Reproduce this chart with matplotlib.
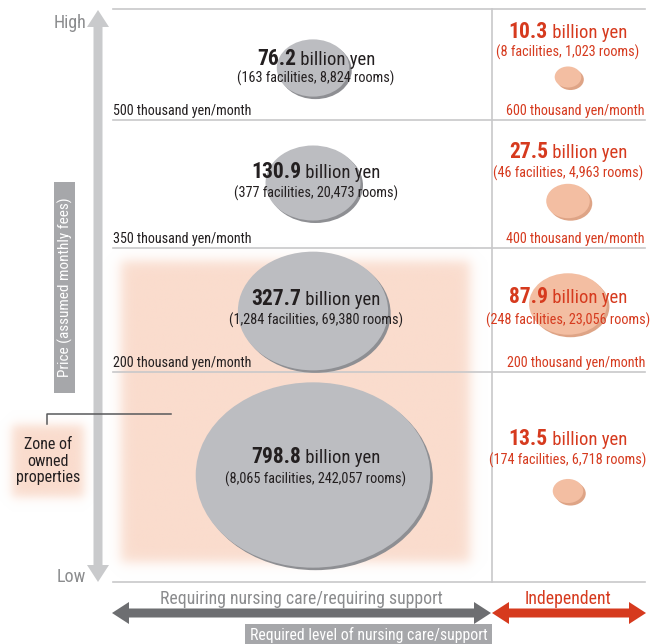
import numpy as np
import matplotlib.pyplot as plt
from matplotlib.patches import Ellipse, Polygon, Rectangle

# market size by price band (billion yen), facilities and rooms
care_value = [76.2, 130.9, 327.7, 798.8]
care_facilities = [163, 377, 1284, 8065]
care_rooms = [8824, 20473, 69380, 242057]

indep_value = [10.3, 27.5, 87.9, 13.5]
indep_facilities = [8, 46, 248, 174]
indep_rooms = [1023, 4963, 23056, 6718]

care_bands = ["500 thousand yen/month", "350 thousand yen/month", "200 thousand yen/month"]
indep_bands = ["600 thousand yen/month", "400 thousand yen/month", "200 thousand yen/month"]

FONT = ["Roboto Condensed", "Archivo Narrow", "PT Sans Narrow", "Fira Sans Condensed",
        "Barlow Condensed", "Liberation Sans Narrow", "DejaVu Sans"]
plt.rcParams["font.family"] = FONT

DARK = "#231f20"
RED = "#d63a1e"
GRID = "#c8c8ca"
GREY_TXT = "#8b8c8e"
SALMON = (250 / 255, 220 / 255, 205 / 255)

W, H = 658, 644
fig = plt.figure(figsize=(W / 100, H / 100), dpi=100)
ax = fig.add_axes([0, 0, 1, 1])
ax.set_xlim(0, W)
ax.set_ylim(H, 0)
ax.axis("off")

# layout (pixel units)
row_lines = [9, 120, 248, 372, 582]
grid_left, grid_mid, grid_right = 113, 492, 645
care_x, indep_x = 313, 568
care_bubble_y = [68, 183, 311, 475]
indep_bubble_y = [77, 201, 304, 491]
care_main_y = [65, 178, 305, 463]
care_sub_y = [83, 198, 325, 484]
indep_main_y = [38, 158, 303, 445]
indep_sub_y = [57, 178, 325, 465]
BUBBLE_K = 8.3     # width in px per sqrt(billion yen)
BUBBLE_ASPECT = 0.79


def soft_box(x0, x1, y0, y1, color, blur=3.0, z=0):
    pad = blur * 5
    xs = np.linspace(x0 - pad, x1 + pad, 300)
    ys = np.linspace(y0 - pad, y1 + pad, 300)
    X, Y = np.meshgrid(xs, ys)
    sig = lambda v: 1 / (1 + np.exp(-v / blur))
    a = sig(X - x0) * sig(x1 - X) * sig(Y - y0) * sig(y1 - Y)
    rgba = np.zeros(a.shape + (4,))
    rgba[..., :3] = color
    rgba[..., 3] = a
    ax.imshow(rgba, extent=(xs[0], xs[-1], ys[-1], ys[0]), origin="lower",
              aspect="auto", zorder=z, interpolation="bilinear")


def double_arrow(x0, x1, y, color, shaft=9, head_w=22, head_l=17, vertical=False):
    s, h = shaft / 2, head_w / 2
    pts = [(x0, 0), (x0 + head_l, -h), (x0 + head_l, -s), (x1 - head_l, -s),
           (x1 - head_l, -h), (x1, 0), (x1 - head_l, h), (x1 - head_l, s),
           (x0 + head_l, s), (x0 + head_l, h)]
    if vertical:
        pts = [(y + q, p) for p, q in pts]
    else:
        pts = [(p, y + q) for p, q in pts]
    ax.add_patch(Polygon(pts, closed=True, facecolor=color, edgecolor="none", zorder=3))


def bubble(x, y, value, fill, shade):
    w = BUBBLE_K * np.sqrt(value)
    h = w * BUBBLE_ASPECT
    ax.add_patch(Ellipse((x + 2.5, y + 2.5), w, h, facecolor=shade, edgecolor="none", zorder=3))
    ax.add_patch(Ellipse((x, y), w, h, facecolor=fill, edgecolor="none", zorder=3.1))


def amount_label(x, y_main, y_sub, value, fac, rooms, color):
    t1 = ax.text(0, y_main, f"{value}", fontsize=15.5, fontweight="bold",
                 color=color, ha="left", va="baseline", zorder=5)
    t2 = ax.text(0, y_main, " billion yen", fontsize=13.5, color=color,
                 ha="left", va="baseline", zorder=5)
    r = fig.canvas.get_renderer()
    w1 = t1.get_window_extent(r).width
    w2 = t2.get_window_extent(r).width
    left = x - (w1 + w2) / 2
    t1.set_x(left)
    t2.set_x(left + w1)
    ax.text(x, y_sub, f"({fac:,} facilities, {rooms:,} rooms)", fontsize=10.3,
            color=color, ha="center", va="baseline", zorder=5)


# zone of owned properties
soft_box(120, 470, 261, 563, SALMON, blur=3.5, z=0)
soft_box(12, 84, 425, 497, SALMON, blur=3, z=0)
ax.set_xlim(0, W)
ax.set_ylim(H, 0)

# grid
for y in row_lines:
    ax.plot([grid_left, grid_right], [y, y], color=GRID, lw=1.2, zorder=2)
ax.plot([grid_mid, grid_mid], [row_lines[0], row_lines[-1]], color=GRID, lw=1.2, zorder=2)

for i, lab in enumerate(care_bands):
    ax.text(grid_left, row_lines[i + 1] - 5, lab, fontsize=10.2, color=DARK,
            ha="left", va="baseline", zorder=5)
for i, lab in enumerate(indep_bands):
    ax.text(grid_right, row_lines[i + 1] - 5, lab, fontsize=10.2, color=RED,
            ha="right", va="baseline", zorder=5)

# bubbles
for i in range(4):
    bubble(care_x, care_bubble_y[i], care_value[i], "#bcbdc1", "#8e8f93")
    amount_label(care_x + 3, care_main_y[i], care_sub_y[i], care_value[i],
                 care_facilities[i], care_rooms[i], DARK)
    bubble(indep_x, indep_bubble_y[i], indep_value[i], "#f3bea2", "#dea486")
    amount_label(indep_x, indep_main_y[i], indep_sub_y[i], indep_value[i],
                 indep_facilities[i], indep_rooms[i], RED)

# price axis
double_arrow(10, 582, 98, "#c9cacc", shaft=9, head_w=22, head_l=17, vertical=True)
ax.text(86, 28, "High", fontsize=13, color=GREY_TXT, ha="right", va="baseline")
ax.text(86, 582, "Low", fontsize=13, color=GREY_TXT, ha="right", va="baseline")
ax.add_patch(Rectangle((54, 182), 21, 211, facecolor="#a6a7aa", edgecolor="none", zorder=3))
ax.text(65, 287.5, "Price (assumed monthly fees)", fontsize=11, color="white",
        rotation=90, ha="center", va="center", zorder=4)

# callout for the owned zone
ax.plot([47, 47, 171], [424, 414, 414], color="#58595b", lw=1.1, zorder=4)
ax.text(48, 461, "Zone of\nowned\nproperties", fontsize=11.5, color=DARK,
        ha="center", va="center", linespacing=1.15, zorder=5)

# level of nursing care axis
double_arrow(112, 491, 613, "#6d6e71", shaft=9, head_w=22, head_l=17)
double_arrow(492, 646, 613, RED, shaft=9, head_w=22, head_l=17)
ax.text(301, 604, "Requiring nursing care/requiring support", fontsize=12.8,
        color=GREY_TXT, ha="center", va="baseline")
ax.text(568, 604, "Independent", fontsize=12.8, color=RED, ha="center", va="baseline")
ax.add_patch(Rectangle((245, 624), 247, 20, facecolor="#a6a7aa", edgecolor="none", zorder=3))
ax.text(368.5, 634.5, "Required level of nursing care/support", fontsize=11.3,
        color="white", ha="center", va="center", zorder=4)

fig.savefig("out.png", dpi=100)
